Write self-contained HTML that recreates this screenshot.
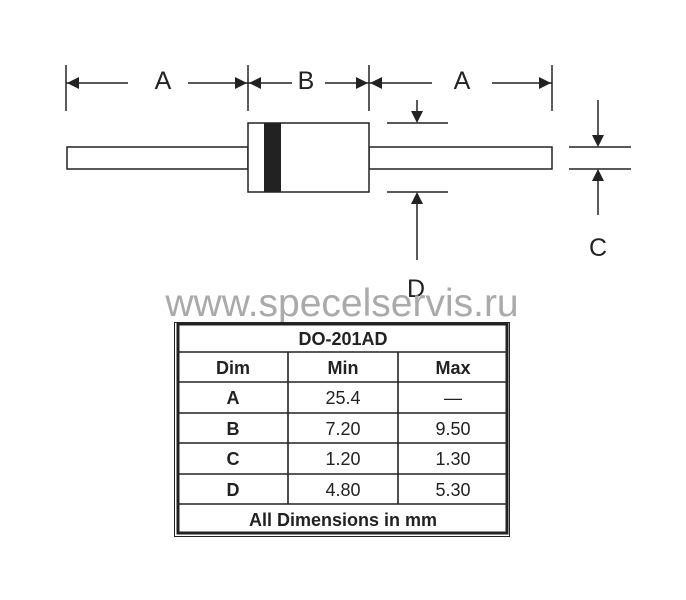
<!DOCTYPE html>
<html><head><meta charset="utf-8"><style>
html,body{margin:0;padding:0;background:#fff;width:686px;height:600px;overflow:hidden}
svg{display:block}
text{font-family:"Liberation Sans",Arial,sans-serif}
</style></head><body>
<svg width="686" height="600" viewBox="0 0 686 600">
<g stroke="#222" stroke-width="1.5" fill="none">
<line x1="66" y1="65" x2="66" y2="111"/>
<line x1="248" y1="65" x2="248" y2="111"/>
<line x1="369" y1="65" x2="369" y2="111"/>
<line x1="552" y1="65" x2="552" y2="111"/>
<line x1="66" y1="83" x2="128" y2="83"/>
<line x1="188" y1="83" x2="248" y2="83"/>
<line x1="248" y1="83" x2="292" y2="83"/>
<line x1="325" y1="83" x2="369" y2="83"/>
<line x1="369" y1="83" x2="432" y2="83"/>
<line x1="492" y1="83" x2="552" y2="83"/>
<rect x="67" y="147" width="181" height="22"/>
<rect x="369" y="147" width="183" height="22"/>
<rect x="248" y="123" width="121" height="69" fill="#fff"/>
<line x1="387" y1="123" x2="448" y2="123"/>
<line x1="387" y1="192" x2="448" y2="192"/>
<line x1="417" y1="100" x2="417" y2="115"/>
<line x1="417" y1="200" x2="417" y2="260"/>
<line x1="569" y1="147" x2="631" y2="147"/>
<line x1="569" y1="169" x2="631" y2="169"/>
<line x1="598" y1="100" x2="598" y2="138"/>
<line x1="598" y1="178" x2="598" y2="215"/>
</g>
<rect x="264" y="123" width="17" height="69" fill="#222"/>
<g fill="#222">
<polygon points="67,83 79,77 79,89"/>
<polygon points="247,83 235,77 235,89"/>
<polygon points="249,83 261,77 261,89"/>
<polygon points="368,83 356,77 356,89"/>
<polygon points="370,83 382,77 382,89"/>
<polygon points="551,83 539,77 539,89"/>
<polygon points="417,123 411,111 423,111"/>
<polygon points="417,192 411,204 423,204"/>
<polygon points="598,147 592,135 604,135"/>
<polygon points="598,169 592,181 604,181"/>
</g>
<g fill="#222" font-size="25" text-anchor="middle">
<text x="163" y="89">A</text>
<text x="306" y="89">B</text>
<text x="462" y="89">A</text>
<text x="598" y="256">C</text>
<text x="416" y="297">D</text>
</g>
<text x="342" y="316" font-size="39" fill="#aaa" text-anchor="middle">www.specelservis.ru</text>
<g stroke="#222" fill="none">
<rect x="174.5" y="322.5" width="335" height="214" stroke-width="1"/>
<rect x="178" y="324" width="329" height="209" stroke-width="3"/>
<g stroke-width="1.6">
<line x1="178" y1="352" x2="507" y2="352"/>
<line x1="178" y1="382" x2="507" y2="382"/>
<line x1="178" y1="413" x2="507" y2="413"/>
<line x1="178" y1="443" x2="507" y2="443"/>
<line x1="178" y1="474" x2="507" y2="474"/>
<line x1="178" y1="504" x2="507" y2="504"/>
<line x1="288" y1="352" x2="288" y2="504"/>
<line x1="398" y1="352" x2="398" y2="504"/>
</g>
</g>
<g font-size="18" text-anchor="middle" fill="#222">
<text x="343" y="345" font-weight="bold">DO-201AD</text>
<text x="233" y="374" font-weight="bold">Dim</text>
<text x="343" y="374" font-weight="bold">Min</text>
<text x="453" y="374" font-weight="bold">Max</text>
<text x="233" y="404" font-weight="bold">A</text>
<text x="343" y="404">25.4</text>
<text x="453" y="404">—</text>
<text x="233" y="435" font-weight="bold">B</text>
<text x="343" y="435">7.20</text>
<text x="453" y="435">9.50</text>
<text x="233" y="465" font-weight="bold">C</text>
<text x="343" y="465">1.20</text>
<text x="453" y="465">1.30</text>
<text x="233" y="496" font-weight="bold">D</text>
<text x="343" y="496">4.80</text>
<text x="453" y="496">5.30</text>
<text x="343" y="526" font-weight="bold">All Dimensions in mm</text>
</g>
</svg>
</body></html>
